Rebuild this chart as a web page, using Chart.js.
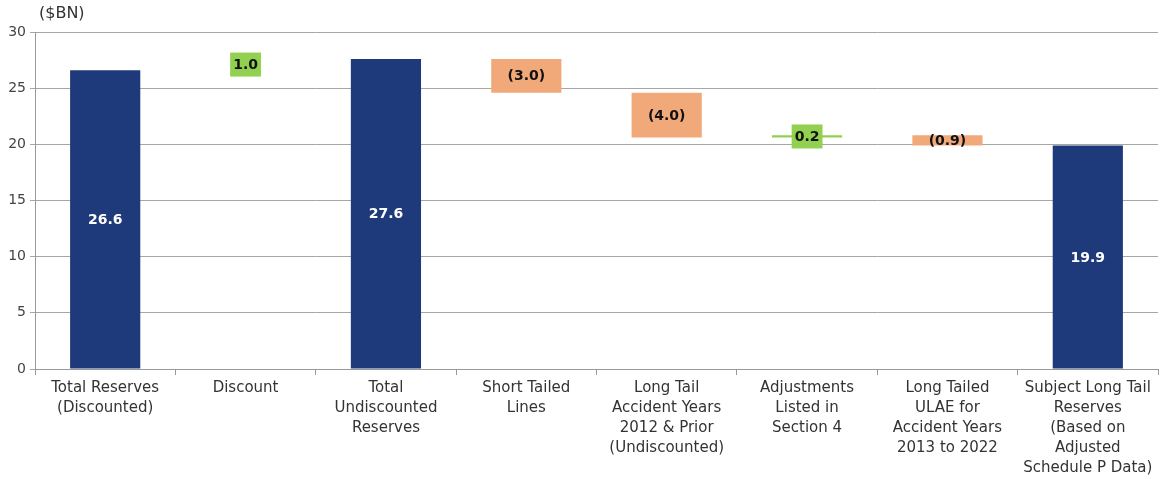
<!DOCTYPE html>
<html>
<head>
<meta charset="utf-8">
<script src="https://cdn.jsdelivr.net/npm/chart.js@4.4.1/dist/chart.umd.min.js"></script>
<style>
  html, body { margin: 0; padding: 0; background: #fff; }
  #wrap { width: 1168px; height: 479px; position: relative; }
</style>
</head>
<body>
<div id="wrap"><canvas id="grafica"></canvas></div>
<script>
// --- DATOS ---
const categorias = [
    ['Total Reserves', '(Discounted)'],
    ['Discount'],
    ['Total', 'Undiscounted', 'Reserves'],
    ['Short Tailed', 'Lines'],
    ['Long Tail', 'Accident Years', '2012 & Prior', '(Undiscounted)'],
    ['Adjustments', 'Listed in', 'Section 4'],
    ['Long Tailed', 'ULAE for', 'Accident Years', '2013 to 2022'],
    ['Subject Long Tail', 'Reserves', '(Based on', 'Adjusted', 'Schedule P Data)']
];
const inicio = [0, 26.6, 0, 27.6, 24.6, 20.6, 20.8, 0];
const fin = [26.6, 27.6, 27.6, 24.6, 20.6, 20.8, 19.9, 19.9];
const etiquetas = ['26.6', '1.0', '27.6', '(3.0)', '(4.0)', '0.2', '(0.9)', '19.9'];
const tipo = ['total', 'sube', 'total', 'baja', 'baja', 'sube', 'baja', 'total'];
const ticksY = [0, 5, 10, 15, 20, 25, 30];

// --- ESTILOS ---
const AZUL = '#1f3a7a';
const NARANJA = '#f2a97a';
const VERDE = '#92d050';
const FUENTE = "'DejaVu Sans', sans-serif";

const coloresBarra = tipo.map((t, i) => {
    if (t === 'total') return AZUL;
    if (t === 'baja') return NARANJA;
    return i === 1 ? 'rgba(0,0,0,0)' : VERDE; // la barra del descuento no se ve
});

// etiquetas de valor con caja verde para las subidas
const pluginEtiquetas = {
    id: 'etiquetas',
    afterDatasetsDraw(chart) {
        const ctx = chart.ctx;
        const meta = chart.getDatasetMeta(0);
        ctx.save();
        ctx.font = "bold 14px " + FUENTE;
        ctx.textAlign = 'center';
        ctx.textBaseline = 'middle';
        meta.data.forEach((bar, i) => {
            const y = (bar.y + bar.base) / 2;
            const texto = etiquetas[i];
            if (tipo[i] === 'sube') {
                const w = ctx.measureText(texto).width + 6;
                ctx.fillStyle = VERDE;
                ctx.fillRect(bar.x - w / 2, y - 12, w, 24);
            }
            ctx.fillStyle = tipo[i] === 'total' ? '#ffffff' : '#111111';
            ctx.fillText(texto, bar.x, y + 1);
        });
        ctx.restore();
    }
};

const pluginUnidad = {
    id: 'unidad',
    afterDraw(chart) {
        const ctx = chart.ctx;
        ctx.save();
        ctx.font = "16px " + FUENTE;
        ctx.fillStyle = '#333';
        ctx.textBaseline = 'middle';
        ctx.fillText('($BN)', chart.chartArea.left + 4, 14);
        ctx.restore();
    }
};

new Chart(document.getElementById('grafica'), {
    type: 'bar',
    data: {
        labels: categorias,
        datasets: [{
            data: inicio.map((v, i) => [v, fin[i]]),
            backgroundColor: coloresBarra,
            borderWidth: 0,
            borderSkipped: false,
            barPercentage: 0.5,
            categoryPercentage: 1
        }]
    },
    options: {
        responsive: true,
        maintainAspectRatio: false,
        animation: false,
        layout: { padding: { top: 32, right: 10, left: 0, bottom: 0 } },
        plugins: { legend: { display: false }, tooltip: { enabled: false } },
        scales: {
            x: {
                afterFit: s => { s.height = 110; },
                grid: { offset: true, drawOnChartArea: false, color: '#999', tickLength: 6 },
                border: { color: '#999' },
                ticks: { color: '#333', font: { family: FUENTE, size: 15, lineHeight: 1.33 }, maxRotation: 0, autoSkip: false, padding: 3 }
            },
            y: {
                min: 0, max: 30,
                afterFit: s => { s.width = 35; },
                afterBuildTicks: s => { s.ticks = ticksY.map(v => ({ value: v })); },
                grid: { color: '#a6a6a6', tickLength: 5 },
                border: { color: '#999' },
                ticks: { color: '#444', font: { family: FUENTE, size: 14 }, padding: 4 }
            }
        }
    },
    plugins: [pluginEtiquetas, pluginUnidad]
});
</script>
</body>
</html>
